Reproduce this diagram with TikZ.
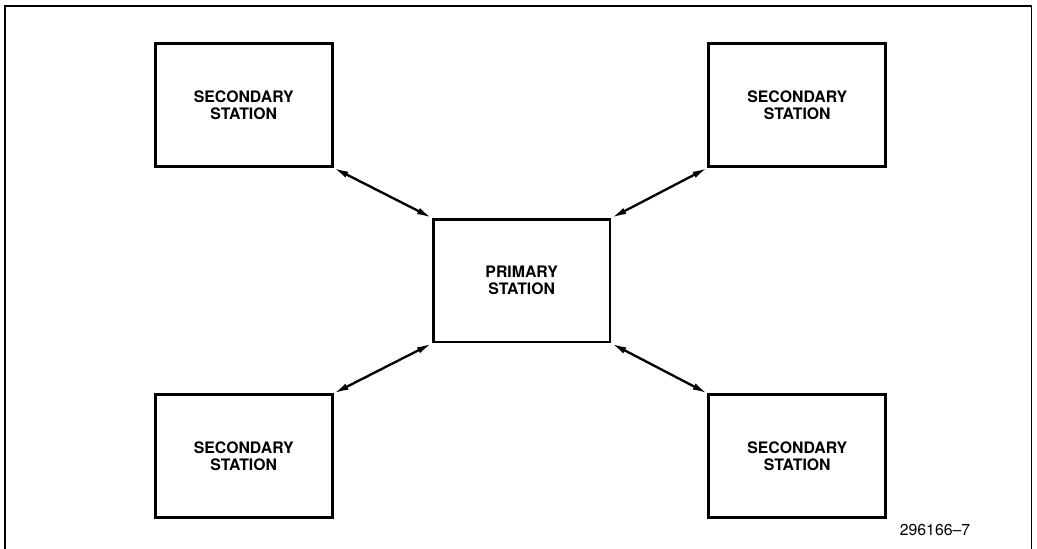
\documentclass[tikz,border=0pt]{standalone}
\usepackage{fontspec}
\setmainfont{TeX Gyre Heros}
\usetikzlibrary{positioning,arrows.meta}

\begin{document}
\begin{tikzpicture}[
    station/.style = {draw, line width=2.5pt, minimum width=5.3cm, minimum height=3.68cm,
                      align=center, font=\fontsize{13.5}{14.5}\selectfont\bfseries},
    link/.style = {line width=2pt, {Latex[length=0.45cm,width=0.2cm]}-{Latex[length=0.45cm,width=0.2cm]}}
]
\useasboundingbox (0,0) rectangle (31.11,-16.44);

% Frame
\draw[line width=1.4pt] (0.15,-16.6) -- (0.15,-0.18) -- (30.95,-0.18) -- (30.95,-16.6);

% Primary in the middle
\node[station] (prim) at (15.65,-8.42) {PRIMARY\\STATION};

% Secondaries at the corners
\node[station, above left=1.5cm and 2.95cm of prim]  (sec1) {SECONDARY\\STATION};
\node[station, above right=1.5cm and 2.88cm of prim] (sec2) {SECONDARY\\STATION};
\node[station, below left=1.5cm and 2.95cm of prim]  (sec3) {SECONDARY\\STATION};
\node[station, below right=1.5cm and 2.88cm of prim] (sec4) {SECONDARY\\STATION};

% Links
\draw[link] (sec1.south east) -- (prim.north west);
\draw[link] (sec2.south west) -- (prim.north east);
\draw[link] (sec3.north east) -- (prim.south west);
\draw[link] (sec4.north west) -- (prim.south east);

\node[font=\fontsize{13.5}{15}\selectfont] (fig) at (28.05,-15.9) {296166–7};

\end{tikzpicture}
\end{document}
